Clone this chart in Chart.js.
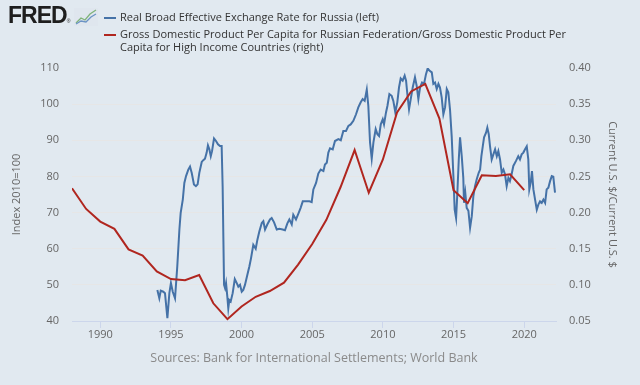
<!DOCTYPE html>
<html>
<head>
<meta charset="utf-8">
<script src="https://cdn.jsdelivr.net/npm/chart.js@4.4.1/dist/chart.umd.min.js"></script>
<style>
  body { margin: 0; background: #e1e9f0; }
  #wrap { position: relative; width: 640px; height: 385px; overflow: hidden; font-family: "Open Sans", sans-serif; }
  #c { position: absolute; left: 0; top: 0; }
  #logo { position: absolute; left: 8px; top: 2px; font: bold 23px "Liberation Sans", Arial, sans-serif; color: #1e1e1e; letter-spacing: -1px; }
  #logo sup { font-size: 5px; font-weight: normal; vertical-align: 0; letter-spacing: 0; }
  #logo svg { position: absolute; left: 66px; top: 6px; }
  #legend { position: absolute; left: 104px; top: 10px; font-size: 11px; color: #333; line-height: 13.5px; }
  .item { position: relative; padding-left: 16px; margin-bottom: 3px; }
  .item i { position: absolute; left: 0; top: 7px; width: 12px; height: 2px; }
  #src { position: absolute; left: 72px; width: 484px; top: 349px; text-align: center; font-size: 12.5px; color: #8a8a8a; }
</style>
</head>
<body>
<div id="wrap">
  <canvas id="c" width="640" height="385"></canvas>
  <div id="logo">FRED<sup>®</sup>
    <svg width="24" height="18" viewBox="0 0 24 18">
      <rect x="0" y="0" width="24" height="18" fill="#dfe6ee"/>
      <polyline points="2,15 7,10 11,12 16,6 22,2" fill="none" stroke="#7fb37a" stroke-width="1.3"/>
      <polyline points="2,16 7,13 12,14 17,9 22,6" fill="none" stroke="#6b93c4" stroke-width="1.3"/>
    </svg>
  </div>
  <div id="legend">
    <div class="item"><i style="background:#4572a7"></i>Real Broad Effective Exchange Rate for Russia (left)</div>
    <div class="item"><i style="background:#b0261f"></i>Gross Domestic Product Per Capita for Russian Federation/Gross Domestic Product Per<br>Capita for High Income Countries (right)</div>
  </div>
  <div id="src">Sources: Bank for International Settlements; World Bank</div>
</div>
<script>
const xTicks = [1990, 1995, 2000, 2005, 2010, 2015, 2020];
const leftTicks = [40, 50, 60, 70, 80, 90, 100, 110];
const rightTicks = [0.05, 0.10, 0.15, 0.20, 0.25, 0.30, 0.35, 0.40];

// Real broad effective exchange rate, index 2010=100 (decimal year)
const reerDates = [
  1994.04, 1994.18, 1994.28, 1994.46, 1994.58, 1994.75, 1994.89, 1995.0, 1995.13, 1995.29,
  1995.45, 1995.6, 1995.69, 1995.84, 1995.95, 1996.07, 1996.23, 1996.35, 1996.47, 1996.63,
  1996.77, 1996.89, 1997.01, 1997.18, 1997.29, 1997.41, 1997.53, 1997.62, 1997.72, 1997.82,
  1997.91, 1998.05, 1998.19, 1998.33, 1998.47, 1998.59, 1998.66, 1998.71, 1998.76, 1998.83,
  1998.9, 1998.99, 1999.06, 1999.13, 1999.23, 1999.37, 1999.52, 1999.66, 1999.77, 1999.89,
  2000.01, 2000.12, 2000.24, 2000.41, 2000.55, 2000.67, 2000.83, 2001.0, 2001.12, 2001.26,
  2001.43, 2001.54, 2001.66, 2001.82, 2002.01, 2002.13, 2002.3, 2002.49, 2002.67, 2002.91,
  2003.07, 2003.24, 2003.38, 2003.55, 2003.66, 2003.85, 2004.02, 2004.18, 2004.33, 2004.56,
  2004.8, 2004.96, 2005.08, 2005.27, 2005.43, 2005.6, 2005.79, 2005.9, 2006.03, 2006.14,
  2006.26, 2006.45, 2006.61, 2006.85, 2007.02, 2007.2, 2007.39, 2007.56, 2007.72, 2007.91,
  2008.1, 2008.26, 2008.43, 2008.57, 2008.71, 2008.86, 2008.97, 2009.09, 2009.21, 2009.33,
  2009.49, 2009.61, 2009.73, 2009.85, 2009.99, 2010.08, 2010.22, 2010.32, 2010.46, 2010.62,
  2010.74, 2010.88, 2011.02, 2011.14, 2011.26, 2011.4, 2011.54, 2011.64, 2011.73, 2011.85,
  2011.97, 2012.11, 2012.27, 2012.39, 2012.51, 2012.63, 2012.77, 2012.91, 2013.05, 2013.17,
  2013.29, 2013.46, 2013.57, 2013.69, 2013.81, 2013.93, 2014.04, 2014.16, 2014.28, 2014.4,
  2014.52, 2014.63, 2014.75, 2014.87, 2014.99, 2015.08, 2015.18, 2015.27, 2015.37, 2015.46,
  2015.58, 2015.69, 2015.74, 2015.83, 2015.93, 2016.05, 2016.17, 2016.29, 2016.4, 2016.52,
  2016.64, 2016.78, 2016.88, 2016.97, 2017.07, 2017.16, 2017.3, 2017.39, 2017.49, 2017.58,
  2017.7, 2017.82, 2017.94, 2018.06, 2018.17, 2018.29, 2018.41, 2018.53, 2018.64, 2018.76,
  2018.88, 2018.99, 2019.11, 2019.23, 2019.42, 2019.58, 2019.7, 2019.82, 2019.94, 2020.06,
  2020.18, 2020.29, 2020.36, 2020.46, 2020.55, 2020.65, 2020.77, 2020.89, 2021.0, 2021.12,
  2021.24, 2021.36, 2021.48, 2021.59, 2021.71, 2021.83, 2021.95, 2022.06, 2022.18
];
const reerValues = [
  48.6, 46.3, 48.4, 48.1, 47.7, 40.8, 47.7, 50.5, 48.1, 46.3,
  55.1, 65.3, 69.9, 73.6, 78.2, 80.1, 81.9, 82.7, 81.0, 77.8,
  77.3, 77.8, 81.0, 84.0, 84.5, 84.9, 86.6, 88.6, 87.5, 85.6,
  87.0, 90.5, 89.8, 88.9, 88.4, 88.4, 77.3, 63.4, 50.0, 49.1,
  50.5, 46.8, 43.5, 45.8, 45.4, 47.7, 51.6, 50.5, 49.5, 50.0,
  48.1, 48.6, 50.0, 52.8, 55.1, 57.4, 61.1, 60.0, 62.5, 64.8,
  67.1, 67.6, 65.3, 66.7, 68.1, 68.5, 67.3, 65.3, 65.5, 65.3,
  65.1, 67.0, 68.1, 66.7, 69.4, 68.1, 69.7, 71.3, 73.1, 73.1,
  73.1, 72.9, 76.4, 78.2, 80.8, 81.9, 81.5, 83.3, 83.8, 86.6,
  87.8, 87.5, 89.8, 90.3, 90.0, 92.6, 92.6, 94.0, 94.4, 95.4,
  97.2, 99.1, 100.5, 101.4, 100.9, 104.0, 99.5, 89.4, 84.9, 89.4,
  93.1, 91.7, 91.2, 94.4, 95.8, 94.4, 97.7, 99.5, 102.8, 102.3,
  100.9, 97.7, 100.5, 104.6, 107.1, 106.5, 107.9, 106.5, 102.8, 98.6,
  101.4, 104.6, 107.4, 105.1, 101.4, 104.6, 106.0, 105.6, 108.3, 109.9,
  109.3, 108.8, 105.6, 106.0, 104.2, 105.6, 104.6, 101.9, 97.2, 99.1,
  104.2, 103.3, 98.5, 91.0, 80.0, 70.8, 68.5, 75.5, 84.7, 90.8,
  85.6, 79.6, 72.7, 75.5, 71.3, 70.5, 65.8, 69.0, 74.5, 77.3,
  79.2, 81.0, 81.9, 85.6, 88.4, 90.8, 92.1, 93.5, 91.7, 88.4,
  84.7, 86.1, 87.5, 85.6, 87.0, 84.7, 81.0, 81.9, 80.6, 77.3,
  79.6, 78.7, 80.6, 82.9, 84.3, 85.6, 84.7, 86.1, 86.6, 87.5,
  88.3, 84.7, 76.4, 78.3, 81.5, 76.4, 73.6, 70.8, 72.2, 73.1,
  72.7, 73.6, 72.7, 76.4, 76.9, 78.7, 80.1, 79.9, 75.5
];

// GDP per capita ratio, Russian Federation / high income countries (annual)
const gdpYears = [
  1988, 1989, 1990, 1991, 1992, 1993, 1994, 1995, 1996, 1997, 1998,
  1999, 2000, 2001, 2002, 2003, 2004, 2005, 2006, 2007, 2008, 2009,
  2010, 2011, 2012, 2013, 2014, 2015, 2016, 2017, 2018, 2019, 2020
];
const gdpValues = [
  0.2335, 0.205, 0.1875, 0.1775, 0.149, 0.1405, 0.1185, 0.108, 0.1065, 0.1135, 0.0745,
  0.0525, 0.070, 0.0835, 0.0915, 0.103, 0.128, 0.1565, 0.190, 0.235, 0.2865, 0.2275,
  0.2735, 0.3385, 0.3675, 0.378, 0.330, 0.231, 0.213, 0.2515, 0.2505, 0.253, 0.231
];

const tickFont = { family: 'Open Sans', size: 11 };
const setTicks = arr => scale => { scale.ticks = arr.map(v => ({ value: v })); };

new Chart(document.getElementById('c'), {
  type: 'line',
  data: {
    datasets: [
      {
        label: 'Gross Domestic Product Per Capita (right)',
        data: gdpYears.map((y, i) => ({ x: y, y: gdpValues[i] })),
        yAxisID: 'yR', borderColor: '#b0261f', borderWidth: 2, pointRadius: 0, tension: 0, order: 0
      },
      {
        label: 'Real Broad Effective Exchange Rate for Russia (left)',
        data: reerDates.map((d, i) => ({ x: d, y: reerValues[i] })),
        yAxisID: 'yL', borderColor: '#4572a7', borderWidth: 2, pointRadius: 0, tension: 0, order: 1
      }
    ]
  },
  options: {
    responsive: false,
    animation: false,
    layout: { padding: { top: 68, left: 0, right: 0, bottom: 0 } },
    plugins: { legend: { display: false }, tooltip: { enabled: false } },
    scales: {
      x: {
        type: 'linear', min: 1988, max: 2022.25,
        afterBuildTicks: setTicks(xTicks),
        afterFit: s => { s.height = 64; },
        grid: { drawOnChartArea: false, color: '#ccd6eb', tickLength: 7 },
        border: { color: '#ccd6eb' },
        ticks: { font: tickFont, color: '#666', padding: 0, maxRotation: 0, autoSkip: false, callback: v => String(v) }
      },
      yL: {
        position: 'left', min: 40, max: 110,
        afterBuildTicks: setTicks(leftTicks),
        afterFit: s => { s.width = 72; },
        grid: { drawTicks: false, color: c => (c.tick && (c.tick.value === 110 || c.tick.value === 40)) ? 'rgba(0,0,0,0)' : '#e6e6e6' },
        border: { display: false },
        ticks: { font: tickFont, color: '#666', padding: 13 },
        title: { display: true, text: 'Index 2010=100', font: tickFont, color: '#666', padding: { top: 10 } }
      },
      yR: {
        position: 'right', min: 0.05, max: 0.40,
        afterBuildTicks: setTicks(rightTicks),
        afterFit: s => { s.width = 84; },
        grid: { drawOnChartArea: false, drawTicks: false },
        border: { display: false },
        ticks: { font: tickFont, color: '#666', padding: 13, callback: v => v.toFixed(2) },
        title: { display: true, text: 'Current U.S. $/Current U.S. $', font: tickFont, color: '#666', padding: { top: 21 } }
      }
    }
  }
});
</script>
</body>
</html>
